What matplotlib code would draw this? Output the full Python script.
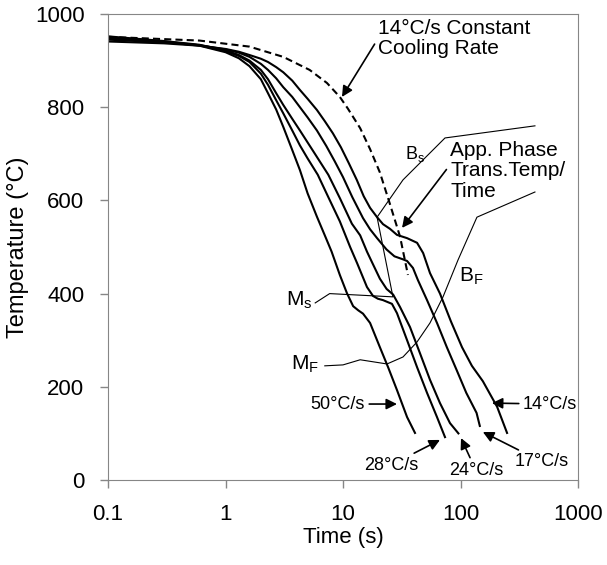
import matplotlib.pyplot as plt
from matplotlib.ticker import NullLocator

plt.rcParams['font.family'] = ['Liberation Sans', 'DejaVu Sans']
plt.rcParams['mathtext.fontset'] = 'custom'
plt.rcParams['mathtext.rm'] = 'Liberation Sans'

# cooling curves, time (s) vs temperature (°C)
t50 = [0.1, 0.3, 0.6, 1.0, 1.3, 1.6, 2.0, 2.3, 2.7, 3.1, 3.7, 4.3, 5.0, 6.0, 7.0, 8.0, 9.4, 10.8, 12.2, 13.5, 14.8, 17.0, 20.6, 24.2, 28.8, 35.1, 41.0]
T50 = [948, 940, 932, 918, 905, 888, 860, 830, 795, 758, 708, 665, 615, 565, 525, 490, 440, 401, 373, 364, 357, 337, 285, 242, 193, 135, 101]

t28 = [0.1, 0.3, 0.6, 1.0, 1.3, 1.6, 2.0, 2.3, 2.7, 3.1, 3.7, 4.3, 5.0, 6.1, 7.5, 9.4, 11.5, 13.2, 16.0, 18.0, 19.8, 21.9, 26.1, 28.8, 35.1, 42.7, 51.9, 63.1, 73.8]
T28 = [950, 941, 933, 920, 910, 897, 872, 848, 815, 787, 750, 718, 690, 655, 607, 555, 500, 465, 414, 395, 389, 386, 378, 358, 300, 242, 187, 135, 92]

t24 = [0.1, 0.3, 0.6, 1.0, 1.3, 1.6, 2.0, 2.3, 2.7, 3.1, 3.7, 4.3, 5.6, 7.5, 9.4, 11.9, 14.0, 16.0, 17.6, 20.6, 23.5, 26.7, 30.6, 37.2, 45.2, 55.0, 66.9, 81.4, 96.0]
T24 = [952, 942, 934, 922, 912, 900, 880, 860, 830, 805, 775, 750, 705, 655, 605, 550, 525, 490, 468, 432, 410, 398, 371, 328, 272, 215, 165, 122, 100]

t17 = [0.1, 0.3, 0.6, 1.0, 1.3, 1.6, 2.0, 2.3, 2.7, 3.1, 3.7, 4.3, 5.0, 6.0, 7.2, 8.5, 10.0, 12.0, 14.8, 17.0, 19.5, 23.4, 27.4, 32.0, 35.1, 39.4, 43.4, 51.9, 63.1, 76.5, 92.7, 112, 137, 146]
T17 = [945, 939, 933, 924, 917, 908, 893, 880, 862, 843, 822, 800, 778, 750, 717, 684, 650, 607, 562, 538, 519, 495, 480, 474, 470, 455, 429, 386, 337, 285, 236, 187, 144, 116]

t14 = [0.1, 0.3, 0.6, 1.0, 1.3, 1.6, 2.0, 2.3, 2.7, 3.1, 3.7, 4.3, 5.0, 6.0, 7.0, 8.2, 9.6, 11.2, 13.1, 15.0, 17.0, 19.5, 21.9, 25.1, 28.8, 35.1, 42.7, 48.1, 55.0, 66.9, 83, 103, 125, 155, 205, 249]
T14 = [941, 937, 932, 925, 919, 912, 904, 897, 886, 875, 857, 837, 818, 794, 770, 744, 714, 680, 644, 609, 584, 564, 549, 539, 526, 519, 509, 487, 444, 400, 340, 285, 245, 212, 157, 101]

# 14°C/s constant cooling rate
t_const = [0.1, 0.6, 1.6, 3.1, 5.2, 7.3, 9.4, 11.0, 14.0, 17.0, 20.6, 25.1, 30.6, 35.7]
T_const = [951, 943, 930, 908, 880, 852, 822, 797, 755, 710, 660, 592, 522, 440]

# transformation start / finish lines
t_ms_bs = [5.8, 7.7, 26.6, 19.5, 32.4, 73.8, 430]
T_ms_bs = [380, 400, 393, 564, 644, 734, 760]
t_mf_bf = [7.0, 10.0, 14.0, 23.7, 32.4, 42.6, 55.0, 71.0, 95.2, 138, 430]
T_mf_bf = [245, 247, 258, 249, 264, 296, 337, 393, 472, 564, 618]

curves = [(t50, T50), (t28, T28), (t24, T24), (t17, T17), (t14, T14)]

fig = plt.figure(figsize=(6.07, 5.65), dpi=100)
ax = fig.add_axes([108 / 607, 1 - 480 / 565, 470 / 607, 466 / 565])

for t, T in curves:
    ax.plot(t, T, color='k', lw=1.5)
ax.plot(t_const, T_const, color='k', lw=1.5, ls='--', dashes=(3.4, 2))
ax.plot(t_ms_bs, T_ms_bs, color='k', lw=0.8)
ax.plot(t_mf_bf, T_mf_bf, color='k', lw=0.8)

ax.set_xscale('log')
ax.set_xlim(0.1, 1000)
ax.set_ylim(0, 1000)
ax.set_xticks([0.1, 1, 10, 100, 1000])
ax.set_xticklabels(['0.1', '1', '10', '100', '1000'])
ax.xaxis.set_minor_locator(NullLocator())
ax.set_yticks(range(0, 1001, 200))
ax.tick_params(length=6, width=1, color='#868686', labelsize=16, pad=11)
for s in ax.spines.values():
    s.set_color('#868686')
ax.set_xlabel('Time (s)', fontsize=16, labelpad=2)
ax.set_ylabel('Temperature (°C)', fontsize=17, labelpad=4)

arrow = dict(arrowstyle='-|>', color='k', lw=1.2, mutation_scale=16, shrinkA=1, shrinkB=0)

ax.annotate('14°C/s Constant\nCooling Rate', xy=(9.8, 822), xytext=(19.9, 990),
            ha='left', va='top', fontsize=15, linespacing=1.1, arrowprops=dict(arrow, relpos=(0, 0.5)))
ax.annotate('App. Phase\nTrans.Temp/\nTime', xy=(31.8, 541), xytext=(81.5, 728),
            ha='left', va='top', fontsize=15, linespacing=1.1, arrowprops=dict(arrow, relpos=(0, 0.6)))

ax.text(41.0, 700, r'$\mathregular{B_s}$', fontsize=13, ha='center', va='center')
ax.text(5.5, 386, r'$\mathregular{M_s}$', fontsize=15, ha='right', va='center')
ax.text(6.3, 249, r'$\mathregular{M_F}$', fontsize=15, ha='right', va='center')
ax.text(97, 438, r'$\mathregular{B_F}$', fontsize=15, ha='left', va='center')

ax.annotate('50°C/s', xy=(28.8, 163), xytext=(15.4, 163), ha='right', va='center', fontsize=13, arrowprops=arrow)
ax.annotate('14°C/s', xy=(185, 165), xytext=(340, 163), ha='left', va='center', fontsize=13, arrowprops=arrow)
ax.annotate('28°C/s', xy=(66.9, 86), xytext=(43.5, 32), ha='right', va='center', fontsize=13, arrowprops=arrow)
ax.annotate('24°C/s', xy=(101, 90), xytext=(135, 21), ha='center', va='center', fontsize=13, arrowprops=arrow)
ax.annotate('17°C/s', xy=(155, 103), xytext=(291, 39), ha='left', va='center', fontsize=13, arrowprops=arrow)

fig.savefig('out.png', dpi=100)
